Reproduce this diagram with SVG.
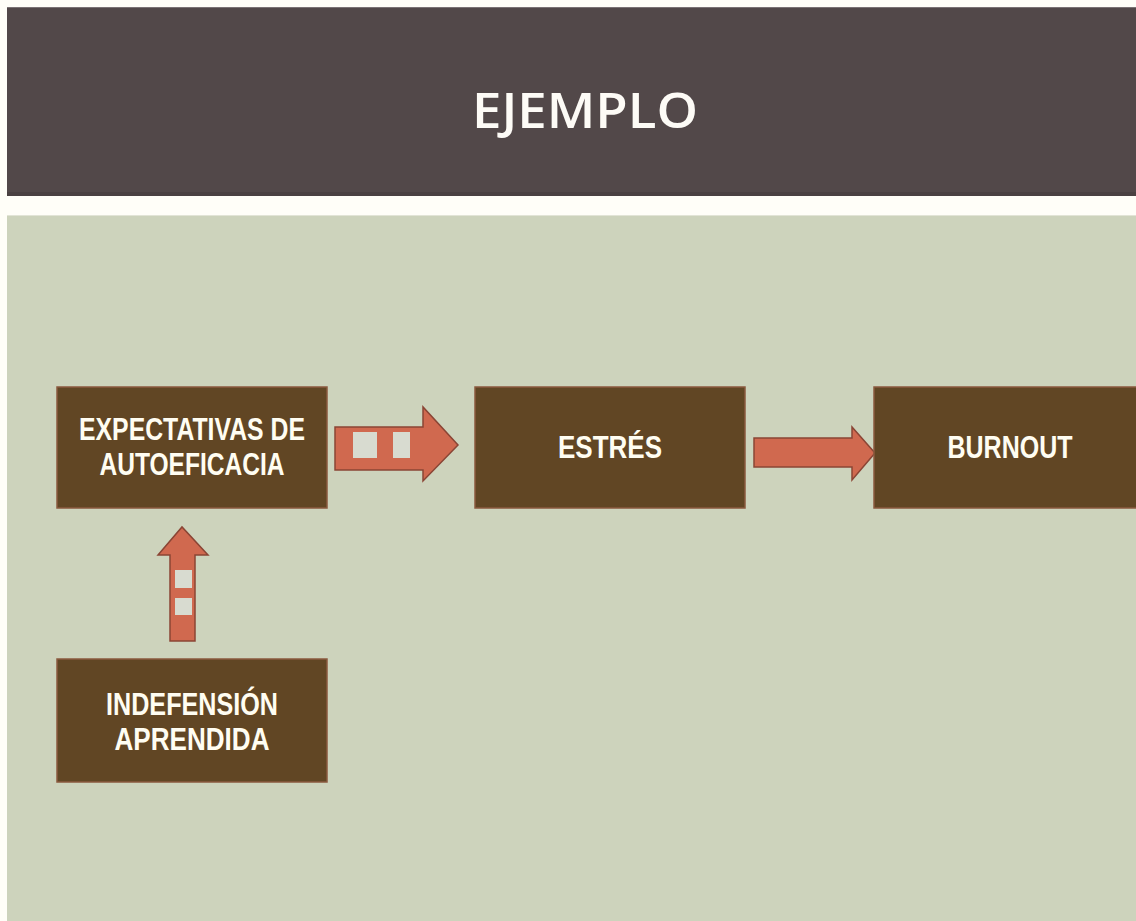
<svg xmlns="http://www.w3.org/2000/svg" width="1136" height="921" viewBox="0 0 1136 921">
  <style>
    .box { fill: #614624; stroke: #8a5a3e; stroke-width: 1.5; }
    .label { font-family: "Liberation Sans Narrow", "Liberation Sans", Arial, sans-serif; font-weight: bold; font-size: 31px; fill: #fffdf2; text-anchor: middle; }
    .title { font-family: "Open Sans", "Noto Sans", "DejaVu Sans", sans-serif; font-weight: 600; font-size: 49px; fill: #fdfbf6; text-anchor: middle; }
    .arrow { fill: #d0694f; stroke: #8a4535; stroke-width: 1.5; stroke-linejoin: miter; }
    .stripe { fill: #d8dbd0; }
  </style>

  <!-- page background -->
  <rect x="0" y="0" width="1136" height="921" fill="#fffef8"/>

  <!-- title band -->
  <g id="title-band">
    <rect x="7" y="7" width="1129" height="189" fill="#524849"/>
    <rect x="7" y="7" width="1129" height="1" fill="#7a7274"/>
    <rect x="7" y="192" width="1129" height="4" fill="#4a4142"/>
    <text class="title" x="585" y="128" textLength="226" lengthAdjust="spacingAndGlyphs">EJEMPLO</text>
  </g>

  <!-- content panel -->
  <rect x="7" y="216" width="1129" height="705" fill="#cdd3bc"/>
  <rect x="7" y="215" width="1129" height="1" fill="#e2e4d6"/>

  <!-- connectors -->
  <g id="connectors">
    <!-- striped arrow: expectativas -> estres -->
    <g id="arrow-expectativas-estres">
      <polygon class="arrow" points="335,427 423,427 423,407 458,445 423,481 423,470 335,470"/>
      <rect class="stripe" x="353" y="432" width="24" height="26"/>
      <rect class="stripe" x="393" y="432" width="17" height="26"/>
    </g>
    <!-- plain arrow: estres -> burnout -->
    <g id="arrow-estres-burnout">
      <polygon class="arrow" points="754,438 852,438 852,427 875,453 852,480 852,467 754,467"/>
    </g>
    <!-- striped arrow: indefension -> expectativas -->
    <g id="arrow-indefension-expectativas">
      <polygon class="arrow" points="170,641 170,555 158,555 182,527 208,555 195,555 195,641"/>
      <rect class="stripe" x="175" y="570" width="17" height="18"/>
      <rect class="stripe" x="175" y="598" width="17" height="17"/>
    </g>
  </g>

  <!-- nodes -->
  <g id="node-expectativas">
    <rect class="box" x="57" y="387" width="270" height="121"/>
    <text class="label" x="192" y="440" textLength="226" lengthAdjust="spacingAndGlyphs">EXPECTATIVAS DE</text>
    <text class="label" x="192" y="475" textLength="185" lengthAdjust="spacingAndGlyphs">AUTOEFICACIA</text>
  </g>

  <g id="node-estres">
    <rect class="box" x="475" y="387" width="270" height="121"/>
    <text class="label" x="610" y="458" textLength="104" lengthAdjust="spacingAndGlyphs">ESTRÉS</text>
  </g>

  <g id="node-burnout">
    <rect class="box" x="874" y="387" width="270" height="121"/>
    <text class="label" x="1010" y="458" textLength="125" lengthAdjust="spacingAndGlyphs">BURNOUT</text>
  </g>

  <g id="node-indefension">
    <rect class="box" x="57" y="659" width="270" height="123"/>
    <text class="label" x="192" y="715" textLength="172" lengthAdjust="spacingAndGlyphs">INDEFENSIÓN</text>
    <text class="label" x="192" y="750" textLength="155" lengthAdjust="spacingAndGlyphs">APRENDIDA</text>
  </g>
</svg>
